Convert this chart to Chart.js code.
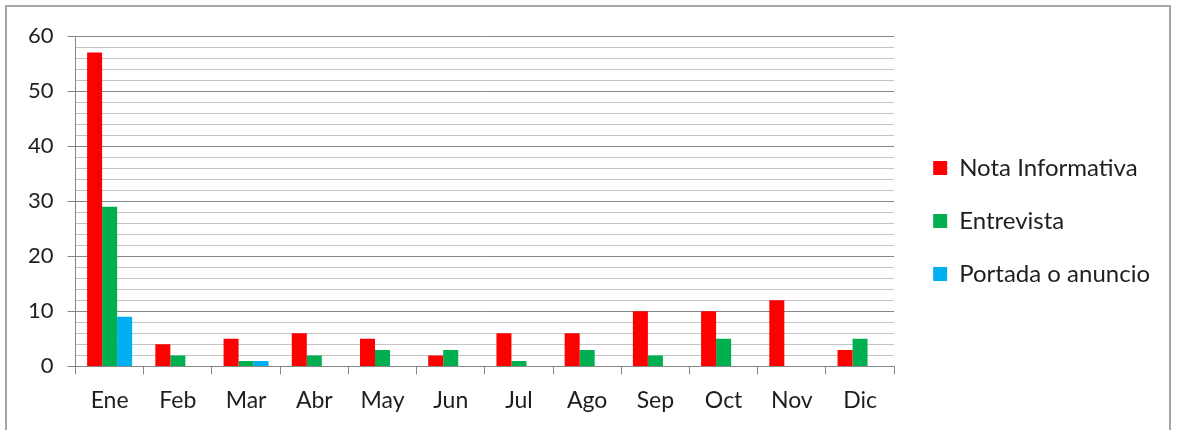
<!DOCTYPE html>
<html>
<head>
<meta charset="utf-8">
<script src="https://cdn.jsdelivr.net/npm/chart.js"></script>
<style>
  html, body { margin: 0; padding: 0; background: #fff; }
  #wrap { position: relative; width: 1180px; height: 430px; overflow: hidden; }
  #frame { position: absolute; left: 5px; top: 5px; width: 1166px; height: 460px; border: 2px solid #a6a6a6; box-sizing: border-box; }
  #chart { position: absolute; left: 0; top: 0; }
</style>
</head>
<body>
<div id="wrap">
  <div id="frame"></div>
  <canvas id="chart" width="1180" height="430"></canvas>
</div>
<script>
const months = ['Ene', 'Feb', 'Mar', 'Abr', 'May', 'Jun', 'Jul', 'Ago', 'Sep', 'Oct', 'Nov', 'Dic'];
const notaInformativa = [57, 4, 5, 6, 5, 2, 6, 6, 10, 10, 12, 3];
const entrevista = [29, 2, 1, 2, 3, 3, 1, 3, 2, 5, 0, 5];
const portadaAnuncio = [9, 0, 1, 0, 0, 0, 0, 0, 0, 0, 0, 0];
const yTicks = [0, 10, 20, 30, 40, 50, 60];

const axisGray = '#868686';
const minorGray = '#c4c4c4';
const textColor = '#1e1e1e';

Chart.defaults.font.family = 'Lato, "Open Sans", sans-serif';

// nudge the legend a bit right/up so it sits where the original one does
const legendNudge = {
  id: 'legendNudge',
  afterLayout(chart) {
    const lg = chart.legend;
    if (!lg) return;
    lg.left += 10; lg.right += 10;
    lg.top -= 10; lg.bottom -= 10;
  }
};

new Chart(document.getElementById('chart').getContext('2d'), {
  type: 'bar',
  data: {
    labels: months,
    datasets: [
      { label: 'Nota Informativa', data: notaInformativa, backgroundColor: '#ff0000' },
      { label: 'Entrevista', data: entrevista, backgroundColor: '#00b050' },
      { label: 'Portada o anuncio', data: portadaAnuncio, backgroundColor: '#00b0f0' }
    ]
  },
  plugins: [legendNudge],
  options: {
    responsive: false,
    animation: false,
    devicePixelRatio: 1,
    layout: { padding: { top: 36, left: 14, right: 30, bottom: 4 } },
    datasets: { bar: { categoryPercentage: 0.66, barPercentage: 1.0 } },
    plugins: {
      tooltip: { enabled: false },
      legend: {
        position: 'right',
        labels: {
          color: textColor,
          font: { size: 24 },
          boxWidth: 14,
          boxHeight: 14,
          padding: 29
        }
      }
    },
    scales: {
      x: {
        offset: true,
        border: { color: axisGray, width: 1 },
        grid: {
          offset: true,
          drawOnChartArea: false,
          drawTicks: true,
          tickLength: 8,
          tickColor: axisGray
        },
        ticks: { color: textColor, font: { size: 23 }, padding: 12 }
      },
      y: {
        min: 0,
        max: 60,
        border: { color: axisGray, width: 1 },
        grid: {
          color: c => (c.tick && yTicks.includes(c.tick.value)) ? axisGray : minorGray,
          tickColor: c => (c.tick && yTicks.includes(c.tick.value)) ? axisGray : 'rgba(0,0,0,0)',
          tickLength: 8
        },
        ticks: {
          stepSize: 2,
          autoSkip: false,
          color: textColor,
          font: { size: 22 },
          padding: 14,
          callback: v => yTicks.includes(v) ? String(v) : ''
        }
      }
    }
  }
});
</script>
</body>
</html>
